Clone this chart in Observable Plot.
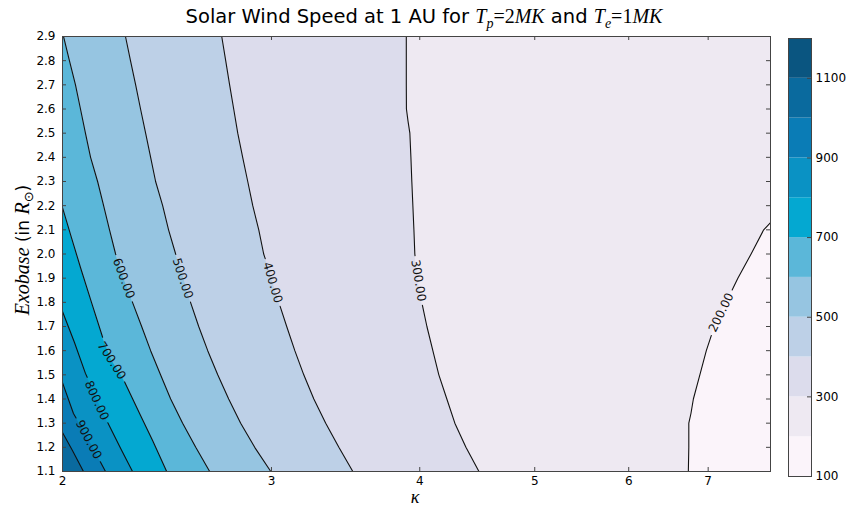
<!DOCTYPE html>
<html>
<head>
<meta charset="utf-8">
<script src="https://cdn.jsdelivr.net/npm/d3@7"></script>
<script src="https://cdn.jsdelivr.net/npm/@observablehq/plot@0.6"></script>
<style>
  html, body { margin: 0; padding: 0; background: #fff; }
  body { font-family: "DejaVu Sans", sans-serif; }
  #wrap { position: relative; width: 848px; height: 506px; overflow: hidden; background: #fff; }
  #main, #cbar { position: absolute; top: 0; }
  #main { left: 0; }
  #cbar { left: 788px; }
  .title { position: absolute; top: 2px; left: 0; width: 848px; text-align: center;
           font-size: 19.5px; line-height: 28px; color: #000; white-space: nowrap; }
  .m { font-family: "Liberation Serif", "DejaVu Serif", serif; font-style: italic; font-size: 20px; }
  .mr { font-family: "Liberation Serif", "DejaVu Serif", serif; font-size: 20px; }
  .sub { font-family: "Liberation Serif", "DejaVu Serif", serif; font-style: italic; font-size: 14px;
         position: relative; top: 5px; }
  .ylab { position: absolute; left: 22px; top: 250px; transform: translate(-50%, -50%) rotate(-90deg);
          font-size: 17px; white-space: nowrap; color: #000; }
  .ylab .m { font-size: 20px; }
  .ylab .sub2 { font-size: 13px; position: relative; top: 4px; }
  .xlab { position: absolute; left: 415px; top: 497px; transform: translate(-50%, -50%);
          font-family: "Liberation Serif", "DejaVu Serif", serif; font-style: italic; font-size: 18px; color: #000; line-height: 11px; }
</style>
</head>
<body>
<div id="wrap">
  <div id="main"></div>
  <div id="cbar"></div>
  <div class="title">Solar Wind Speed at 1 AU for <span class="m">T</span><span class="sub">p</span><span class="mr">=2</span><span class="m">MK</span> and <span class="m">T</span><span class="sub">e</span><span class="mr">=1</span><span class="m">MK</span></div>
  <div class="ylab"><span class="m">Exobase</span> (in <span class="m">R</span><span class="sub2">⊙</span>)</div>
  <div class="xlab">κ</div>
</div>
<script>
// ---------------- data ----------------
const kappaDomain = [2, 7.9];
const exobaseDomain = [1.1, 2.9];
const kappaTicks = [2, 3, 4, 5, 6, 7];
const exobaseTicks = [1.1, 1.2, 1.3, 1.4, 1.5, 1.6, 1.7, 1.8, 1.9, 2.0, 2.1, 2.2, 2.3, 2.4, 2.5, 2.6, 2.7, 2.8, 2.9];
const bandLevels = [100, 200, 300, 400, 500, 600, 700, 800, 900, 1000, 1100];
const bandColors = ["#fbf4fa", "#eee9f2", "#dcdcec", "#bdd0e7", "#96c5e1", "#5bb7d9",
                    "#04a8d1", "#0a92c4", "#0a7cb6", "#0a6a9e", "#0a5580"];
const colorbarTicks = [100, 300, 500, 700, 900, 1100];

// contour lines: [kappa, exobase]
const contour200 = [[6.736,1.10],[6.742,1.20],[6.742,1.30],[6.770,1.34],[6.802,1.40],[6.888,1.50],[6.975,1.60],[7.084,1.70],[7.249,1.80],[7.415,1.90],[7.608,2.00],[7.796,2.10],[7.90,2.13]];
const contour300 = [[4.487,1.1],[4.375,1.2],[4.282,1.3],[4.216,1.4],[4.151,1.5],[4.103,1.6],[4.056,1.7],[4.016,1.8],[3.985,1.9],[3.962,2.0],[3.955,2.1],[3.947,2.2],[3.939,2.3],[3.932,2.4],[3.924,2.5],[3.910,2.55],[3.898,2.6],[3.897,2.7],[3.897,2.8],[3.897,2.9]];
const contour400 = [[3.513,1.1],[3.419,1.2],[3.333,1.3],[3.257,1.4],[3.194,1.5],[3.139,1.6],[3.090,1.7],[3.043,1.8],[3.001,1.9],[2.955,2.0],[2.927,2.1],[2.893,2.2],[2.865,2.3],[2.837,2.4],[2.810,2.5],[2.788,2.6],[2.766,2.7],[2.745,2.8],[2.724,2.9]];
const contour500 = [[2.996,1.1],[2.904,1.2],[2.826,1.3],[2.761,1.4],[2.703,1.5],[2.651,1.6],[2.605,1.7],[2.564,1.8],[2.530,1.9],[2.491,2.0],[2.457,2.1],[2.429,2.2],[2.396,2.3],[2.373,2.4],[2.350,2.5],[2.327,2.6],[2.305,2.7],[2.282,2.8],[2.260,2.9]];
const contour600 = [[2.661,1.1],[2.590,1.2],[2.525,1.3],[2.467,1.4],[2.419,1.5],[2.373,1.6],[2.332,1.7],[2.291,1.8],[2.252,1.9],[2.217,2.0],[2.191,2.1],[2.166,2.2],[2.141,2.3],[2.112,2.4],[2.091,2.5],[2.071,2.6],[2.051,2.7],[2.027,2.8],[2.004,2.9]];
const contour700 = [[2.448,1.1],[2.382,1.228],[2.327,1.332],[2.247,1.489],[2.200,1.559],[2.162,1.655],[2.116,1.799],[2.071,1.944],[2.035,2.068],[2.0,2.192]];
const contour800 = [[2.291,1.1],[2.239,1.195],[2.183,1.303],[2.137,1.402],[2.091,1.506],[2.047,1.634],[2.0,1.762]];
const contour900 = [[2.174,1.1],[2.145,1.154],[2.104,1.232],[2.043,1.340],[2.0,1.468]];
const contour1000 = [[2.083,1.1],[2.039,1.187],[2.0,1.261]];

const contourLevels = [200, 300, 400, 500, 600, 700, 800, 900, 1000];
const contourLines = [contour200, contour300, contour400, contour500, contour600, contour700, contour800, contour900, contour1000];

// inline contour labels (level, kappa, exobase)
const labelLevels = [200, 300, 400, 500, 600, 700, 800, 900];
const labelKappa  = [7.18, 3.99, 3.007, 2.525, 2.252, 2.200, 2.137, 2.104];
const labelExo    = [1.758, 1.890, 1.882, 1.899, 1.899, 1.559, 1.394, 1.232];

// ---------------- build ----------------
const W = 848, H = 506;
const mL = 62, mR = 78, mT = 36, mB = 35;
const frameH = H - mT - mB, frameW = W - mL - mR;
const font = "DejaVu Sans, sans-serif";

const colorScale = {type: "threshold", domain: bandLevels.slice(1), range: bandColors};

const areaRows = [];
contourLines.forEach((pts, i) => {
  const level = contourLevels[i];
  pts.forEach(([k, r]) => areaRows.push({level, k, r}));
  const last = pts[pts.length - 1];
  if (last[1] < exobaseDomain[1]) areaRows.push({level, k: last[0], r: exobaseDomain[1]});
});

const labels = labelLevels.map((level, i) => ({level, k: labelKappa[i], r: labelExo[i]}));

const baseOpts = {
  width: W, height: H,
  marginLeft: mL, marginRight: mR, marginTop: mT, marginBottom: mB,
  style: {fontFamily: font, fontSize: "12px", color: "#000", background: "transparent"},
  x: {type: "log", domain: kappaDomain},
  y: {domain: exobaseDomain},
  color: colorScale
};

// first pass: obtain the scales to orient labels along contours and to leave gaps under them
const probe = Plot.plot({...baseOpts, marks: [Plot.frame()]});
const sx = probe.scale("x"), sy = probe.scale("y");
labels.forEach(lab => {
  const pts = contourLines[contourLevels.indexOf(lab.level)];
  let best = null, bestD = Infinity;
  const px = sx.apply(lab.k), py = sy.apply(lab.r);
  for (let j = 0; j < pts.length - 1; j++) {
    const ax = sx.apply(pts[j][0]), ay = sy.apply(pts[j][1]);
    const bx = sx.apply(pts[j+1][0]), by = sy.apply(pts[j+1][1]);
    const dx = bx - ax, dy = by - ay;
    const t = Math.max(0, Math.min(1, ((px-ax)*dx + (py-ay)*dy) / (dx*dx + dy*dy)));
    const d = Math.hypot(ax + t*dx - px, ay + t*dy - py);
    if (d < bestD) { bestD = d; best = [dx, dy]; }
  }
  let a = Math.atan2(best[1], best[0]) * 180 / Math.PI;
  if (a > 90) a -= 180;
  if (a < -90) a += 180;
  lab.angle = a;
  lab.px = px; lab.py = py;
});

// contour strokes, broken where a label sits (cut points lie on the drawn straight segments)
const GAP = 25;
const lineRows = [];
contourLines.forEach((pts, i) => {
  const level = contourLevels[i];
  const labs = labels.filter(l => l.level === level);
  const P = pts.map(([k, r]) => [sx.apply(k), sy.apply(r)]);
  const pieces = [];
  let cur = [P[0]];
  for (let j = 0; j < P.length - 1; j++) {
    const A = P[j], B = P[j+1];
    const D = [B[0] - A[0], B[1] - A[1]];
    const ivs = [];
    labs.forEach(c => {
      const fx = A[0] - c.px, fy = A[1] - c.py;
      const qa = D[0]*D[0] + D[1]*D[1], qb = 2*(fx*D[0] + fy*D[1]), qc = fx*fx + fy*fy - GAP*GAP;
      const disc = qb*qb - 4*qa*qc;
      if (disc <= 0) return;
      const s = Math.sqrt(disc);
      const t1 = (-qb - s) / (2*qa), t2 = (-qb + s) / (2*qa);
      if (t2 < 0 || t1 > 1) return;
      ivs.push([Math.max(0, t1), Math.min(1, t2)]);
    });
    ivs.sort((a, b) => a[0] - b[0]);
    let endInside = false;
    ivs.forEach(([t1, t2]) => {
      if (t1 > 0) cur.push([A[0] + t1*D[0], A[1] + t1*D[1]]);
      if (cur.length > 1) pieces.push(cur);
      cur = [];
      if (t2 < 1) cur.push([A[0] + t2*D[0], A[1] + t2*D[1]]); else endInside = true;
    });
    if (!endInside) cur.push(B);
  }
  if (cur.length > 1) pieces.push(cur);
  pieces.forEach((piece, n) => piece.forEach(([x, y]) =>
    lineRows.push({id: level + "-" + n, k: sx.invert(x), r: sy.invert(y)})));
});

const main = Plot.plot({
  ...baseOpts,
  marks: [
    Plot.rect([bandLevels[0]], {x1: kappaDomain[0], x2: kappaDomain[1], y1: exobaseDomain[0], y2: exobaseDomain[1], fill: d => d + 50}),
    Plot.areaX(areaRows, {y: "r", x1: kappaDomain[0], x2: "k", z: "level", fill: d => d.level + 50, clip: true}),
    Plot.line(lineRows, {x: "k", y: "r", z: "id", stroke: "#111", strokeWidth: 1.1}),
    Plot.text(labels, {x: "k", y: "r", text: d => d.level.toFixed(2), rotate: "angle",
                       fontSize: 12, fill: "#111", textAnchor: "middle", lineAnchor: "middle"}),
    Plot.frame({stroke: "#444", strokeWidth: 1}),
    Plot.ruleX(kappaTicks, {insetTop: frameH - 4, stroke: "#444"}),
    Plot.ruleX(kappaTicks, {insetBottom: frameH - 4, stroke: "#444"}),
    Plot.ruleY(exobaseTicks, {insetRight: frameW - 4, stroke: "#444"}),
    Plot.ruleY(exobaseTicks, {insetLeft: frameW - 4, stroke: "#444"}),
    Plot.axisX(kappaTicks, {tickSize: 0, tickPadding: 5, tickFormat: d => String(d), label: null, fontSize: 12}),
    Plot.axisY(exobaseTicks, {tickSize: 0, tickPadding: 7, tickFormat: d => d.toFixed(1), label: null, fontSize: 12})
  ]
});
document.getElementById("main").appendChild(main);

// ---------------- colorbar ----------------
const cbW = 60, cbMR = 37, cbMT = 38, cbMB = 30;
const cbFrameW = cbW - cbMR;
const cbar = Plot.plot({
  width: cbW, height: H,
  marginLeft: 0, marginRight: cbMR, marginTop: cbMT, marginBottom: cbMB,
  style: {fontFamily: font, fontSize: "12px", color: "#000", background: "transparent"},
  x: {domain: [0, 1], axis: null},
  y: {domain: [bandLevels[0], bandLevels[bandLevels.length - 1] + 100]},
  color: colorScale,
  marks: [
    Plot.rect(bandLevels, {x1: 0, x2: 1, y1: d => d, y2: d => d + 100, fill: d => d + 50}),
    Plot.frame({stroke: "#444"}),
    Plot.ruleY(colorbarTicks.slice(1), {insetLeft: cbFrameW - 4, stroke: "#444"}),
    Plot.axisY(colorbarTicks, {anchor: "right", tickSize: 0, tickPadding: 4, tickFormat: d => String(d), label: null, fontSize: 12})
  ]
});
document.getElementById("cbar").appendChild(cbar);
</script>
</body>
</html>
